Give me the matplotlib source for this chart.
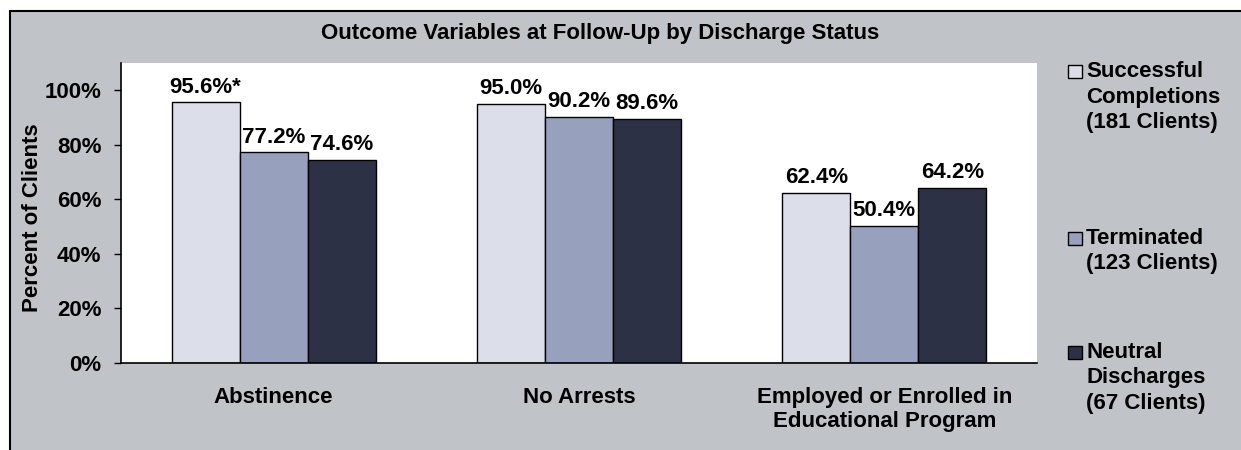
import numpy as np
import matplotlib
matplotlib.use('Agg')
import matplotlib.pyplot as plt
from matplotlib.patches import Rectangle

plt.rcParams['font.family'] = ['Liberation Sans', 'DejaVu Sans']
plt.rcParams['font.weight'] = 'bold'

# Data
categories = ['Abstinence', 'No Arrests', 'Employed or Enrolled in\nEducational Program']
successful = [95.6, 95.0, 62.4]
terminated = [77.2, 90.2, 50.4]
neutral = [74.6, 89.6, 64.2]
successful_labels = ['95.6%*', '95.0%', '62.4%']
terminated_labels = ['77.2%', '90.2%', '50.4%']
neutral_labels = ['74.6%', '89.6%', '64.2%']
legend_lines = [['Successful', 'Completions', '(181 Clients)'],
                ['Terminated', '(123 Clients)'],
                ['Neutral', 'Discharges', '(67 Clients)']]
yticks = [0, 20, 40, 60, 80, 100]

colors = ['#DCDEEA', '#97A0BD', '#2C3145']
BG = '#C0C3C7'
W, H = 1241, 450
FS = 16

fig = plt.figure(figsize=(W / 100, H / 100), dpi=100, facecolor='white')

# gray chart frame
frame = Rectangle((10 / W, -0.1), 1.1, 1 - 11 / H + 0.1, transform=fig.transFigure,
                  facecolor=BG, edgecolor='black', linewidth=1.5, zorder=-10)
fig.patches.append(frame)

ax = fig.add_axes([121 / W, 1 - 363 / H, (1037 - 121) / W, 300 / H])
ax.set_facecolor('white')

x = np.arange(len(categories))
bw = 0.223
all_vals = [successful, terminated, neutral]
all_labels = [successful_labels, terminated_labels, neutral_labels]
for i, (vals, labs) in enumerate(zip(all_vals, all_labels)):
    xs = x + (i - 1) * bw
    ax.bar(xs, vals, width=bw, color=colors[i], edgecolor='black',
           linewidth=1.0, zorder=3)
    for xx, v, lab in zip(xs, vals, labs):
        ax.annotate(lab, (xx, v), xytext=(0, 7), textcoords='offset points',
                    ha='center', va='baseline', fontsize=FS, fontweight='bold')

ax.set_xlim(-0.5, 2.5)
ax.set_ylim(0, 110)
ax.set_yticks(yticks)
ax.set_yticklabels([f'{t}%' for t in yticks])
ax.set_xticks(x)
ax.set_xticklabels(categories)
ax.tick_params(axis='x', length=0, pad=17, labelsize=FS)
ax.tick_params(axis='y', length=5, width=1, pad=9, labelsize=FS, direction='out')
for s in ['top', 'right']:
    ax.spines[s].set_visible(False)
for s in ['left', 'bottom']:
    ax.spines[s].set_linewidth(1.2)
    ax.spines[s].set_zorder(5)

fig.text(600 / W, 1 - 33 / H, 'Outcome Variables at Follow-Up by Discharge Status',
         ha='center', va='center', fontsize=FS, fontweight='bold')
fig.text(33 / W, 1 - 218 / H, 'Percent of Clients', rotation=90,
         ha='center', va='center', fontsize=FS, fontweight='bold')

# legend
first_baselines = [77, 244, 358]
line_step = 25.5
for lines, base, col in zip(legend_lines, first_baselines, colors):
    fig.patches.append(Rectangle((1068 / W, 1 - (base + 0.5) / H), 14 / W, 13 / H,
                                 transform=fig.transFigure, facecolor=col,
                                 edgecolor='black', linewidth=1.0))
    for k, line in enumerate(lines):
        fig.text(1086 / W, 1 - (base + k * line_step) / H, line, ha='left',
                 va='baseline', fontsize=FS, fontweight='bold')

fig.savefig('out.png', dpi=100, facecolor='white')
